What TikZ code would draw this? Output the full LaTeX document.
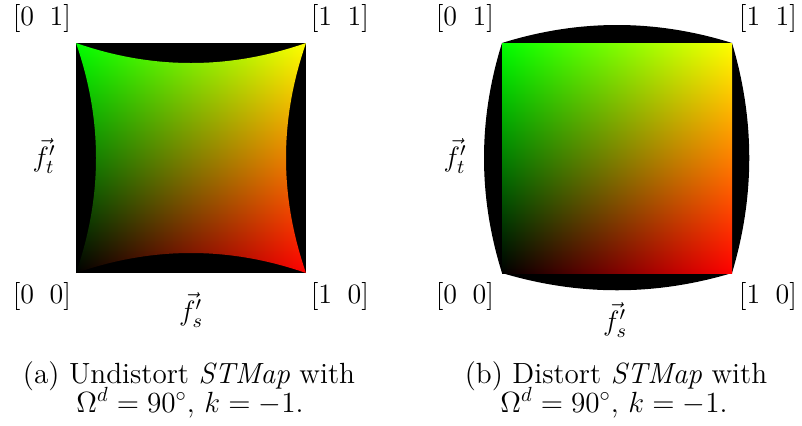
\RequirePackage{fix-cm}
\documentclass[tikz,border=0pt]{standalone}
\usepackage{amsmath}
\usepackage{fontspec}
\pgfdeclarefunctionalshading{stmap}{\pgfpoint{0bp}{0bp}}{\pgfpoint{100bp}{100bp}}{}{
  25 sub 50 div exch 25 sub 50 div exch 0
}
\tikzset{
  lab/.style={font=\fontsize{14}{16}\selectfont, inner sep=0pt},
  captext/.style={font=\fontsize{14.6}{17}\selectfont, inner sep=0pt, anchor=base},
}
\begin{document}
\begin{tikzpicture}[x=0.5pt,y=0.5pt]
\useasboundingbox (0,0) rectangle (802,425);
% ---------- (a) undistort ----------
\coordinate (aBL) at (76,152);
\coordinate (aTR) at (306,382);
\fill[black] (aBL) rectangle (aTR);
\begin{scope}
\clip (76,382) .. controls (152.67,355.33) and (229.33,355.33) .. (306,382)
  .. controls (279.33,305.33) and (279.33,228.67) .. (306,152)
  .. controls (229.33,178.67) and (152.67,178.67) .. (76,152)
  .. controls (102.67,228.67) and (102.67,305.33) .. (76,382) -- cycle;
\shade[shading=stmap] (aBL) rectangle (aTR);
\end{scope}
% ---------- (b) distort ----------
\coordinate (bBL) at (502,152);
\coordinate (bTR) at (732,382);
\fill[black] (502,382) .. controls (578.67,406) and (655.33,406) .. (732,382)
  .. controls (755,305.33) and (755,228.67) .. (732,152)
  .. controls (655.33,129) and (578.67,129) .. (502,152)
  .. controls (478,228.67) and (478,305.33) .. (502,382) -- cycle;
\shade[shading=stmap] (bBL) rectangle (bTR);
% ---------- labels (a) ----------
\node[lab] (a01) at (42,406.5) {$[0\;\;1]$};
\node[lab] (a11) at (340,406.5) {$[1\;\;1]$};
\node[lab] (a00) at (42,128.5) {$[0\;\;0]$};
\node[lab] (a10) at (340,128.5) {$[1\;\;0]$};
\node[lab] (aft) at (44,269) {$\vec{f}'_{t}$};
\node[lab] (afs) at (191,115) {$\vec{f}'_{s}$};
% ---------- labels (b) ----------
\node[lab] (b01) at (465,406.5) {$[0\;\;1]$};
\node[lab] (b11) at (768,406.5) {$[1\;\;1]$};
\node[lab] (b00) at (465,128.5) {$[0\;\;0]$};
\node[lab] (b10) at (768,128.5) {$[1\;\;0]$};
\node[lab] (bft) at (455,269) {$\vec{f}'_{t}$};
\node[lab] (bfs) at (615,105) {$\vec{f}'_{s}$};
% ---------- captions ----------
\node[captext] (capa1) at (189,42) {(a) Undistort \textit{STMap} with};
\node[captext] (capa2) at (190,13) {$\Omega^{d} = 90^{\circ}$, $k = -1$.};
\node[captext] (capb1) at (616,42) {(b) Distort \textit{STMap} with};
\node[captext] (capb2) at (614,13) {$\Omega^{d} = 90^{\circ}$, $k = -1$.};
\end{tikzpicture}
\end{document}
